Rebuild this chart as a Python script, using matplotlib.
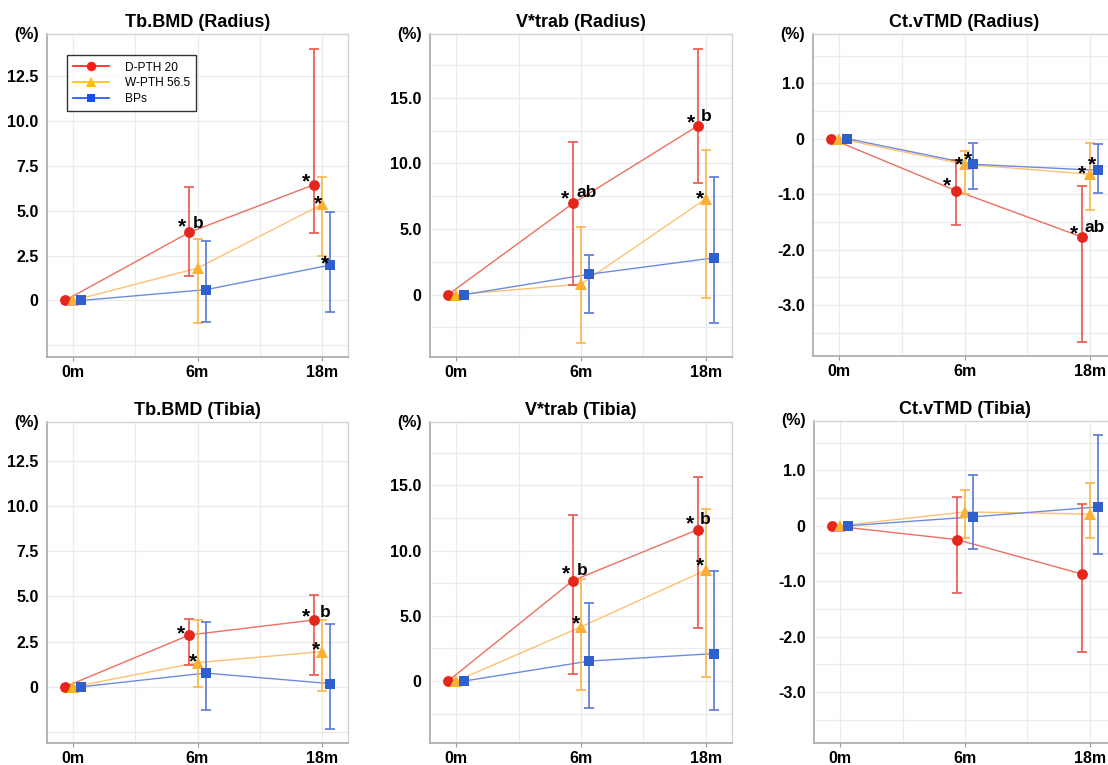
import numpy as np
import matplotlib
matplotlib.use('Agg')
import matplotlib.pyplot as plt
from matplotlib.lines import Line2D

plt.rcParams['font.family'] = ['Liberation Sans', 'DejaVu Sans']

# ---- data ----
months = ['0m', '6m', '18m']
groups = ['D-PTH 20', 'W-PTH 56.5', 'BPs']

titles = ['Tb.BMD (Radius)', 'V*trab (Radius)', 'Ct.vTMD (Radius)',
          'Tb.BMD (Tibia)', 'V*trab (Tibia)', 'Ct.vTMD (Tibia)']

# mean change (%) per group, then error bar low / high
tb_rad_mean = [[0, 3.8, 6.45], [0, 1.8, 5.35], [0, 0.6, 1.97]]
tb_rad_low = [[0, 1.35, 3.75], [0, -1.25, 2.5], [0, -1.2, -0.65]]
tb_rad_high = [[0, 6.3, 14.0], [0, 3.4, 6.9], [0, 3.3, 4.95]]

vt_rad_mean = [[0, 6.95, 12.85], [0, 0.8, 7.3], [0, 1.55, 2.8]]
vt_rad_low = [[0, 0.7, 8.5], [0, -3.65, -0.25], [0, -1.4, -2.15]]
vt_rad_high = [[0, 11.6, 18.7], [0, 5.15, 11.05], [0, 3.05, 8.95]]

ct_rad_mean = [[0, -0.94, -1.77], [0, -0.46, -0.64], [0, -0.46, -0.57]]
ct_rad_low = [[0, -1.56, -3.66], [0, -0.99, -1.29], [0, -0.9, -0.97]]
ct_rad_high = [[0, -0.39, -0.85], [0, -0.22, -0.08], [0, -0.08, -0.1]]

tb_tib_mean = [[0, 2.87, 3.7], [0, 1.34, 1.95], [0, 0.76, 0.18]]
tb_tib_low = [[0, 1.2, 0.63], [0, 0.0, -0.22], [0, -1.27, -2.34]]
tb_tib_high = [[0, 3.74, 5.06], [0, 3.7, 3.7], [0, 3.61, 3.46]]

vt_tib_mean = [[0, 7.7, 11.6], [0, 4.15, 8.5], [0, 1.53, 2.1]]
vt_tib_low = [[0, 0.53, 4.05], [0, -0.7, 0.3], [0, -2.1, -2.2]]
vt_tib_high = [[0, 12.75, 15.65], [0, 7.85, 13.2], [0, 6.0, 8.4]]

ct_tib_mean = [[0, -0.25, -0.87], [0, 0.25, 0.21], [0, 0.16, 0.34]]
ct_tib_low = [[0, -1.21, -2.27], [0, -0.22, -0.22], [0, -0.42, -0.51]]
ct_tib_high = [[0, 0.52, 0.39], [0, 0.65, 0.77], [0, 0.92, 1.63]]

# significance marks: (panel, group, month index, text, dx px, dy px)
marks = [
    (0, 0, 1, '*', -7, 11), (0, 0, 1, 'b', 9, 11),
    (0, 0, 2, '*', -8, 9), (0, 1, 2, '*', -4, 7), (0, 2, 2, '*', -5, 7),
    (1, 0, 1, '*', -8, 10), (1, 0, 1, 'ab', 14, 13),
    (1, 0, 2, '*', -7, 9), (1, 0, 2, 'b', 9, 11), (1, 1, 2, '*', -6, 6),
    (2, 0, 1, '*', -9, 11), (2, 1, 1, '*', -6, 5), (2, 2, 1, '*', -5, 10),
    (2, 1, 2, '*', -8, 6), (2, 2, 2, '*', -6, 11),
    (2, 0, 2, '*', -8, 9), (2, 0, 2, 'ab', 13, 11),
    (3, 0, 1, '*', -8, 7), (3, 1, 1, '*', -5, 7),
    (3, 0, 2, '*', -8, 9), (3, 0, 2, 'b', 11, 9), (3, 1, 2, '*', -6, 8),
    (4, 0, 1, '*', -7, 13), (4, 0, 1, 'b', 9, 12), (4, 1, 1, '*', -5, 9),
    (4, 0, 2, '*', -8, 12), (4, 0, 2, 'b', 8, 12), (4, 1, 2, '*', -6, 10),
]

means = [tb_rad_mean, vt_rad_mean, ct_rad_mean, tb_tib_mean, vt_tib_mean, ct_tib_mean]
lows = [tb_rad_low, vt_rad_low, ct_rad_low, tb_tib_low, vt_tib_low, ct_tib_low]
highs = [tb_rad_high, vt_rad_high, ct_rad_high, tb_tib_high, vt_tib_high, ct_tib_high]

# ---- styling ----
marker_colors = ['#e5261d', '#fbb033', '#2f5fcc']
bar_colors = ['#e6564c', '#fbb548', '#5a78d6']
line_colors = ['#ec6f63', '#fcc273', '#6f8bdc']
legend_colors = ['#ff1a1a', '#ffc000', '#1a4dff']
markers = ['o', '^', 's']
msizes = [7.8, 8.6, 7.2]
offsets = [-0.065, 0, 0.065]

ylims = [(-3.15, 14.85), (-4.75, 19.85), (-3.92, 1.89),
         (-3.11, 14.66), (-4.75, 19.85), (-3.92, 1.89)]
major_ticks = [[0, 2.5, 5, 7.5, 10, 12.5], [0, 5, 10, 15], [1, 0, -1, -2, -3]] * 2
tick_labels = [['0', '2.5', '5.0', '7.5', '10.0', '12.5'],
               ['0', '5.0', '10.0', '15.0'],
               ['1.0', '0', '-1.0', '-2.0', '-3.0']] * 2
minor_ticks = [[-2.5], [-2.5, 2.5, 7.5, 12.5, 17.5],
               [1.5, 0.5, -0.5, -1.5, -2.5, -3.5]] * 2

# axes boxes in pixels (left, right, top, bottom)
W, H = 1108, 765
boxes = [(47, 348, 34, 357), (430, 732, 34, 357), (813, 1116, 34, 356),
         (47, 348, 422, 743), (430, 732, 422, 743), (814, 1116, 421, 743)]

fig = plt.figure(figsize=(W / 100, H / 100), dpi=100)
fig.patch.set_facecolor('white')

axes = []
for i in range(6):
    l, r, t, b = boxes[i]
    ax = fig.add_axes([l / W, 1 - b / H, (r - l) / W, (b - t) / H])
    axes.append(ax)
    x = np.arange(len(months))

    for g in range(3):
        xs = x + offsets[g]
        m = np.array(means[i][g])
        lo = np.array(lows[i][g])
        hi = np.array(highs[i][g])
        ax.plot(xs, m, '-', color=line_colors[g], lw=1.0, zorder=2)
        # error bars only where there is spread
        sel = hi > lo
        ax.errorbar(xs[sel], m[sel], yerr=[m[sel] - lo[sel], hi[sel] - m[sel]],
                    fmt='none', ecolor=bar_colors[g], elinewidth=1.2,
                    capsize=3.5, capthick=1.2, zorder=3)
        ax.plot(xs, m, linestyle='none', marker=markers[g], ms=msizes[g],
                color=marker_colors[g], markeredgewidth=0, zorder=4)

    ax.set_xlim(-0.21, 2.21)
    ax.set_ylim(*ylims[i])
    ax.set_xticks(x)
    ax.set_xticklabels(months, fontsize=11.5, fontweight='bold')
    ax.set_xticks([0.5, 1.5], minor=True)
    ax.set_yticks(major_ticks[i])
    ax.set_yticklabels(tick_labels[i], fontsize=11.5, fontweight='bold')
    ax.set_yticks(minor_ticks[i], minor=True)
    ax.tick_params(axis='y', which='both', length=0, pad=6)
    ax.tick_params(axis='x', which='major', length=3, width=0.8, color='#999999', pad=3)
    ax.tick_params(axis='x', which='minor', length=0)
    ax.grid(True, which='both', color='#ebebeb', lw=0.9, zorder=0)
    ax.set_axisbelow(True)
    for side in ['top', 'right']:
        ax.spines[side].set_color('#d4d4d4')
        ax.spines[side].set_linewidth(1.0)
    for side in ['left', 'bottom']:
        ax.spines[side].set_color('#a8a8a8')
        ax.spines[side].set_linewidth(1.2)

    ax.set_title(titles[i], fontsize=13, fontweight='bold', pad=5)
    ax.annotate('(%)', xy=(0, 1), xycoords='axes fraction', xytext=(-6, 0),
                textcoords='offset points', ha='right', va='center',
                fontsize=11.5, fontweight='bold')

# significance labels, placed relative to the data points
for p, g, k, txt, dx, dy in marks:
    ax = axes[p]
    xv = k + offsets[g]
    yv = means[p][g][k]
    fs = 15 if txt == '*' else 12.5
    # shift from visual centre to baseline
    base = (0.55 if txt == '*' else 0.36) * fs * 100 / 72
    ax.annotate(txt, xy=(xv, yv), xycoords='data',
                xytext=(dx * 0.72, (dy - base) * 0.72), textcoords='offset points',
                ha='center', va='baseline', fontsize=fs, fontweight='bold',
                color='black', zorder=6)

# legend on first panel
handles = [Line2D([0], [0], color=legend_colors[g], marker=markers[g], lw=1.2,
                  ms=msizes[g] - 1, markeredgewidth=0) for g in range(3)]
leg = axes[0].legend(handles, groups, loc='upper left', bbox_to_anchor=(0.066, 0.935),
                     borderaxespad=0, fontsize=8.6, frameon=True, fancybox=False,
                     edgecolor='black', handlelength=3.0, handletextpad=1.3,
                     labelspacing=0.3, borderpad=0.55)
leg.get_frame().set_linewidth(1.0)

fig.savefig('out.png', dpi=100, facecolor='white')
